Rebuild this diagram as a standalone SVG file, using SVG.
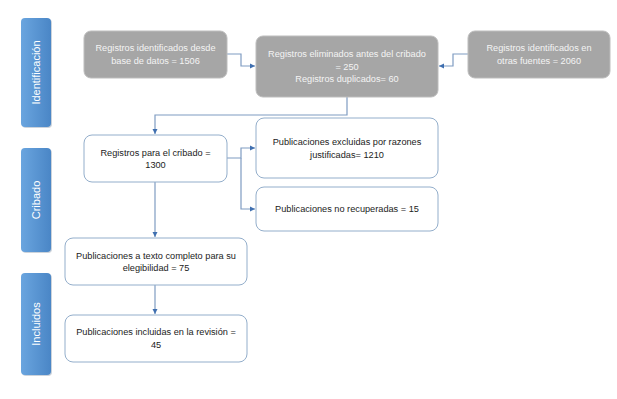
<svg xmlns="http://www.w3.org/2000/svg" width="617" height="399" viewBox="0 0 617 399">
<defs>
<linearGradient id="bar" x1="0" y1="0" x2="1" y2="0">
<stop offset="0" stop-color="#6AA5DF"/>
<stop offset="1" stop-color="#4A86C6"/>
</linearGradient>
<marker id="arr" markerWidth="6" markerHeight="6" refX="5" refY="3" orient="auto" markerUnits="userSpaceOnUse">
<path d="M0,0.5 L5,3 L0,5.5 Z" fill="#3F6FB0"/>
</marker>
</defs>
<style>
.bar{fill:url(#bar);}
.shadow{fill:#9AA8B8;opacity:0.5;}
.btxt{font-family:"Liberation Sans",Arial,sans-serif;font-size:11px;fill:#FFFFFF;text-anchor:middle;}
.gbox{fill:#A6A6A6;stroke:#BDBDBD;stroke-width:1;}
.wbox{fill:#FFFFFF;stroke:#93AECB;stroke-width:1;}
.gt{font-family:"Liberation Sans",Arial,sans-serif;font-size:9.2px;fill:#F4F4F4;text-anchor:middle;}
.wt{font-family:"Liberation Sans",Arial,sans-serif;font-size:9.2px;fill:#222222;text-anchor:middle;}
.con{fill:none;stroke:#7F9CC2;stroke-width:1.2;}
</style>
<rect width="617" height="399" fill="#FFFFFF"/>

<g id="lane-identificacion">
<rect class="shadow" x="22" y="19" width="30" height="109" rx="4"/>
<rect class="bar" x="21" y="18" width="30" height="109" rx="4"/>
<text class="btxt" transform="translate(40,72.5) rotate(-90)">Identificación</text>
</g>
<g id="lane-cribado">
<rect class="shadow" x="22" y="149" width="30" height="104" rx="4"/>
<rect class="bar" x="21" y="148" width="30" height="104" rx="4"/>
<text class="btxt" transform="translate(40,200) rotate(-90)">Cribado</text>
</g>
<g id="lane-incluidos">
<rect class="shadow" x="22" y="274" width="30" height="102" rx="4"/>
<rect class="bar" x="21" y="273" width="30" height="102" rx="4"/>
<text class="btxt" transform="translate(40,324) rotate(-90)">Incluidos</text>
</g>

<g id="connectors">
<path class="con" d="M227,54 H241 V66 H255" marker-end="url(#arr)"/>
<path class="con" d="M468,54 H453 V66 H439" marker-end="url(#arr)"/>
<path class="con" d="M347,97 V115 H155 V134" marker-end="url(#arr)"/>
<path class="con" d="M227,158 H241 V148 H255" marker-end="url(#arr)"/>
<path class="con" d="M241,158 V209 H255"  marker-end="url(#arr)"/>
<path class="con" d="M155,182 V237" marker-end="url(#arr)"/>
<path class="con" d="M155,285 V314" marker-end="url(#arr)"/>
</g>

<g id="node-bd">
<rect class="gbox" x="84" y="31" width="143" height="47" rx="7"/>
<text class="gt" x="155.5" y="51">Registros identificados desde</text>
<text class="gt" x="155.5" y="64">base de datos = 1506</text>
</g>
<g id="node-eliminados">
<rect class="gbox" x="256" y="36" width="182" height="61" rx="7"/>
<text class="gt" x="347" y="57">Registros eliminados antes del cribado</text>
<text class="gt" x="347" y="69.5">= 250</text>
<text class="gt" x="347" y="82">Registros duplicados= 60</text>
</g>
<g id="node-otras">
<rect class="gbox" x="468" y="31" width="142" height="47" rx="7"/>
<text class="gt" x="539" y="51">Registros identificados en</text>
<text class="gt" x="539" y="64">otras fuentes =  2060</text>
</g>
<g id="node-cribado">
<rect class="wbox" x="84" y="135" width="143" height="47" rx="8"/>
<text class="wt" x="155.5" y="156">Registros para el cribado =</text>
<text class="wt" x="155.5" y="168">1300</text>
</g>
<g id="node-excluidas">
<rect class="wbox" x="256" y="118" width="182" height="60" rx="8"/>
<text class="wt" x="347" y="145">Publicaciones excluidas por razones</text>
<text class="wt" x="347" y="158">justificadas= 1210</text>
</g>
<g id="node-norecuperadas">
<rect class="wbox" x="256" y="187" width="182" height="44" rx="8"/>
<text class="wt" x="347" y="212">Publicaciones no recuperadas = 15</text>
</g>
<g id="node-elegibilidad">
<rect class="wbox" x="65" y="238" width="182" height="47" rx="8"/>
<text class="wt" x="156" y="259">Publicaciones a texto completo para su</text>
<text class="wt" x="156" y="271">elegibilidad  = 75</text>
</g>
<g id="node-incluidas">
<rect class="wbox" x="65" y="315" width="182" height="47" rx="8"/>
<text class="wt" x="156" y="335">Publicaciones incluidas en la revisión =</text>
<text class="wt" x="156" y="348">45</text>
</g>
</svg>
